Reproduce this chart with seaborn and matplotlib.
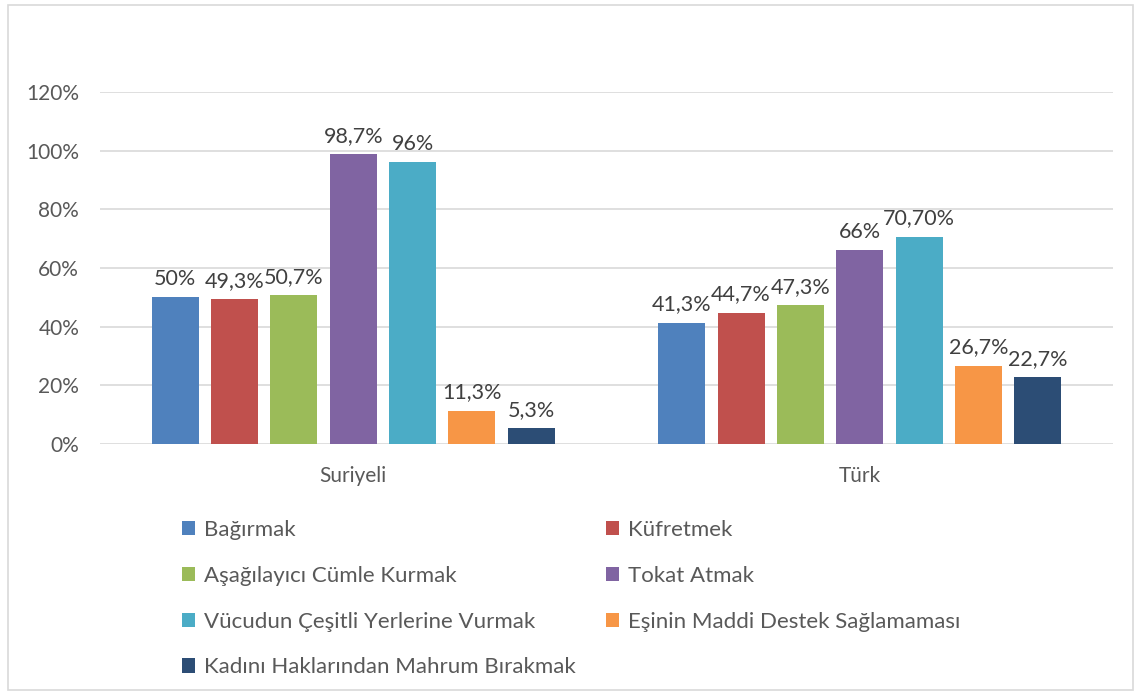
import pandas as pd
import matplotlib.pyplot as plt
import seaborn as sns
from matplotlib.patches import Patch, Rectangle
from matplotlib.ticker import FuncFormatter

# Chart data
groups = ['Suriyeli', 'Türk']
series = [
    'Bağırmak',
    'Küfretmek',
    'Aşağılayıcı Cümle Kurmak',
    'Tokat Atmak',
    'Vücudun Çeşitli Yerlerine Vurmak',
    'Eşinin Maddi Destek Sağlamaması',
    'Kadını Haklarından Mahrum Bırakmak',
]
suriyeli = [50, 49.3, 50.7, 98.7, 96, 11.3, 5.3]
turk = [41.3, 44.7, 47.3, 66, 70.7, 26.7, 22.7]
suriyeli_labels = ['50%', '49,3%', '50,7%', '98,7%', '96%', '11,3%', '5,3%']
turk_labels = ['41,3%', '44,7%', '47,3%', '66%', '70,70%', '26,7%', '22,7%']
colors = ['#4F81BD', '#C0504D', '#9BBB59', '#8064A2', '#4BACC6', '#F79646', '#2C4D75']

rows = []
for s, a, b in zip(series, suriyeli, turk):
    rows.append({'grup': groups[0], 'tur': s, 'oran': a})
    rows.append({'grup': groups[1], 'tur': s, 'oran': b})
df = pd.DataFrame(rows)

sns.set_style('white')
plt.rcParams['font.family'] = ['Lato', 'DejaVu Sans']

W, H = 1141, 695
fig = plt.figure(figsize=(W / 100, H / 100), dpi=100)
ax = fig.add_axes([100 / W, 1 - 444 / H, 1013 / W, (444 - 92) / H])

# outer chart border
fig.patches.append(Rectangle((8 / W, 5 / H), 1125 / W, 685 / H, transform=fig.transFigure,
                             fill=False, edgecolor='#D9D9D9', linewidth=1.2))

sns.barplot(data=df, x='grup', y='oran', hue='tur', hue_order=series, order=groups,
            palette=colors, width=0.82, gap=0.21, saturation=1, ax=ax, legend=False,
            edgecolor='none')

for i, cont in enumerate(ax.containers):
    ax.bar_label(cont, labels=[suriyeli_labels[i], turk_labels[i]], padding=6,
                 fontsize=15.5, color='#404040')

ax.set_ylim(0, 120)
ax.set_yticks(range(0, 121, 20))
ax.yaxis.set_major_formatter(FuncFormatter(lambda v, p: f'{int(v)}%'))
ax.grid(axis='y', color='#D9D9D9', linewidth=1.2)
ax.set_axisbelow(True)
for sp in ax.spines.values():
    sp.set_visible(False)
ax.tick_params(axis='both', length=0, labelsize=15, labelcolor='#595959')
ax.tick_params(axis='x', pad=16)
ax.tick_params(axis='y', pad=15)
ax.set_xlabel('')
ax.set_ylabel('')

handles = [Patch(facecolor=c, edgecolor='none') for c in colors]
leg_kw = dict(frameon=False, fontsize=16, labelcolor='#595959', handlelength=0.6,
              handleheight=0.6, handletextpad=0.4, labelspacing=1.16, borderpad=0,
              borderaxespad=0, loc='upper left')
left_idx = [0, 2, 4, 6]
right_idx = [1, 3, 5]
fig.legend([handles[i] for i in left_idx], [series[i] for i in left_idx],
           bbox_to_anchor=(182 / W, 1 - 520 / H), **leg_kw)
fig.legend([handles[i] for i in right_idx], [series[i] for i in right_idx],
           bbox_to_anchor=(606 / W, 1 - 520 / H), **leg_kw)

plt.savefig('out.png', dpi=100)
plt.close()
